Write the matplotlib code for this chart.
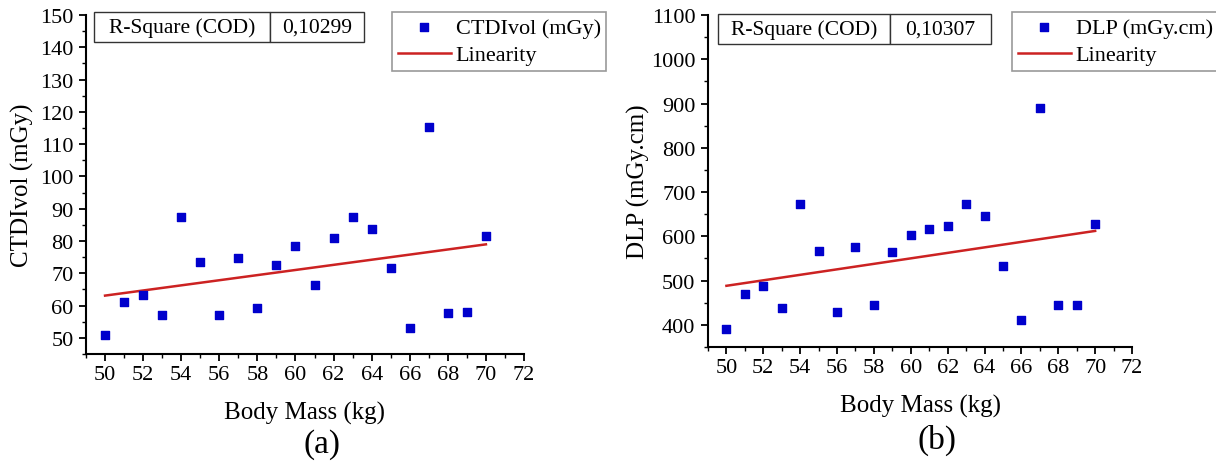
import numpy as np
import matplotlib.pyplot as plt
from matplotlib.ticker import MultipleLocator

plt.rcParams['font.family'] = ['Liberation Serif', 'DejaVu Serif']

# Body mass (kg) and dose values
body_mass = [50, 51, 52, 53, 54, 55, 56, 57, 58, 59, 60,
             61, 62, 63, 64, 65, 66, 67, 68, 69, 70]
ctdi = [50.8, 61.1, 63.4, 57.0, 87.4, 73.5, 57.0, 74.7, 59.2, 72.6, 78.6,
        66.5, 81.0, 87.4, 83.8, 71.6, 53.2, 115.4, 57.8, 58.0, 81.5]
dlp = [391, 469, 488, 439, 673, 567, 429, 575, 446, 565, 604,
       617, 624, 673, 645, 534, 410, 890, 444, 445, 627]

r2_ctdi = '0,10299'
r2_dlp = '0,10307'

W, H = 1216, 464
fig = plt.figure(figsize=(W / 100, H / 100), dpi=100)


def px_box(x0, y0, x1, y1):
    # pixel box (top-left origin) -> figure fraction [left, bottom, width, height]
    return [x0 / W, 1 - y1 / H, (x1 - x0) / W, (y1 - y0) / H]


def panel(box, y, ylim, ystep, yminor, ylabel, r2, table_box, split,
          leg_xy, xlab_xy, ylab_xy, tag, tag_xy):
    ax = fig.add_axes(px_box(*box))
    ax.scatter(body_mass, y, marker='s', s=36, color='#0000CC', label=ylabel, zorder=3)
    slope, icpt = np.polyfit(body_mass, y, 1)
    xf = np.array([min(body_mass), max(body_mass)])
    ax.plot(xf, slope * xf + icpt, color='#CC2222', lw=1.8, label='Linearity')

    ax.set_xlim(49, 72)
    ax.set_ylim(*ylim)
    ax.xaxis.set_minor_locator(MultipleLocator(1))
    ax.yaxis.set_minor_locator(MultipleLocator(yminor))
    ax.set_xticks(np.arange(50, 73, 2))
    ax.set_yticks(np.arange(ylim[0] + (-ylim[0]) % ystep, ylim[1] + 1, ystep))
    for s in ['top', 'right']:
        ax.spines[s].set_visible(False)
    for s in ['left', 'bottom']:
        ax.spines[s].set_linewidth(1.5)
    ax.tick_params(which='major', direction='out', length=5, width=1.3, labelsize=16)
    ax.tick_params(axis='x', which='major', pad=3)
    ax.tick_params(axis='y', which='major', pad=4)
    ax.tick_params(which='minor', direction='out', length=3, width=1.0)

    ax.set_xlabel('Body Mass (kg)', fontsize=18, va='center')
    ax.xaxis.set_label_coords(xlab_xy[0] / W, 1 - xlab_xy[1] / H, transform=fig.transFigure)
    ax.set_ylabel(ylabel, fontsize=18, va='center')
    ax.yaxis.set_label_coords(ylab_xy[0] / W, 1 - ylab_xy[1] / H, transform=fig.transFigure)

    leg = ax.legend(loc='upper left', bbox_to_anchor=(leg_xy[0] / W, 1 - leg_xy[1] / H),
                    bbox_transform=fig.transFigure, fontsize=16, frameon=True,
                    fancybox=False, edgecolor='#999999', framealpha=1,
                    handlelength=2.4, handletextpad=0.22, borderpad=0.25,
                    labelspacing=0.3, borderaxespad=0)
    leg.get_frame().set_linewidth(1.2)

    # the small "R-Square (COD)" table sits in its own invisible axes
    tax = fig.add_axes(px_box(*table_box))
    tax.axis('off')
    frac = (split - table_box[0]) / (table_box[2] - table_box[0])
    tbl = tax.table(cellText=[['R-Square (COD)', r2]], bbox=[0, 0, 1, 1],
                    colWidths=[frac, 1 - frac], cellLoc='center')
    tbl.auto_set_font_size(False)
    for cell in tbl.get_celld().values():
        cell.set_fontsize(15.5)
        cell.set_linewidth(1.0)
        cell.set_edgecolor('#333333')

    fig.text(tag_xy[0] / W, 1 - tag_xy[1] / H, tag, fontsize=24, ha='center', va='center')
    return ax


panel((86, 16, 524, 355), ctdi, (45, 150), 10, 5, 'CTDIvol (mGy)',
      r2_ctdi, (94, 13, 364, 43), 270, (392, 13),
      (305, 413), (22, 185), '(a)', (322, 445))
panel((708, 16, 1132, 348), dlp, (350, 1100), 100, 50, 'DLP (mGy.cm)',
      r2_dlp, (718, 15, 991, 45), 890, (1012, 13),
      (920, 406), (638, 182), '(b)', (937, 440))

fig.savefig('out.png', dpi=100)
